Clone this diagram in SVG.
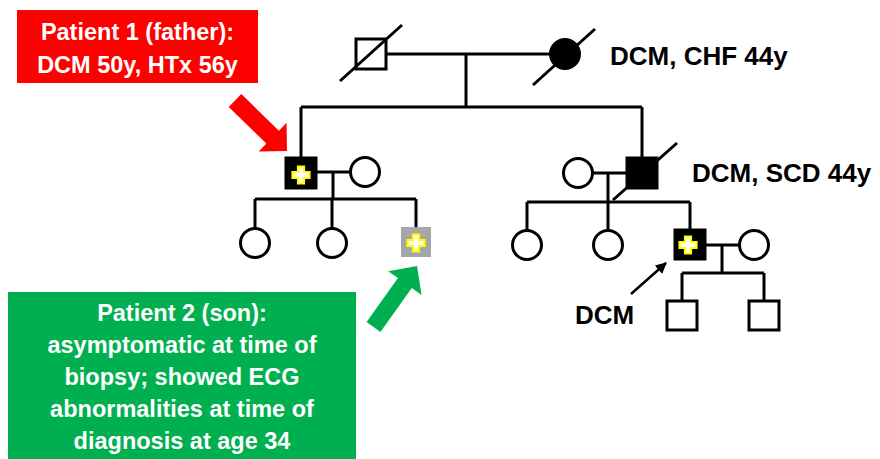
<svg xmlns="http://www.w3.org/2000/svg" width="880" height="459" viewBox="0 0 880 459">
<style>
.ln{stroke:#000;stroke-width:3;fill:none}
.sq{stroke:#000;stroke-width:3;fill:#fff}
.aff{stroke:#000;stroke-width:3;fill:#000}
.cx{fill:#fff;stroke:#ffff00;stroke-width:2.2}
.lbl{font-family:"Liberation Sans",Arial,sans-serif;font-weight:bold;font-size:26px;fill:#000}
.box{font-family:"Liberation Sans",Arial,sans-serif;font-weight:bold;font-size:23.5px;fill:#fff;text-anchor:middle}
</style>
<defs>
<path id="cross" d="M-3,-8.5 h6 v5.5 h5.5 v6 h-5.5 v5.5 h-6 v-5.5 h-5.5 v-6 h5.5 z"/>
<marker id="ah" viewBox="0 0 10 10" refX="9" refY="5" markerWidth="4.5" markerHeight="4.5" orient="auto" markerUnits="strokeWidth">
<path d="M0,0 L10,5 L0,10 z" fill="#000"/>
</marker>
</defs>
<rect width="880" height="459" fill="#fff"/>

<g id="connectors">
<line class="ln" x1="386" y1="54" x2="550" y2="54"/>
<line class="ln" x1="466" y1="54" x2="466" y2="107"/>
<line class="ln" x1="301" y1="107" x2="642" y2="107"/>
<line class="ln" x1="301" y1="107" x2="301" y2="158"/>
<line class="ln" x1="642" y1="107" x2="642" y2="158"/>
<line class="ln" x1="316" y1="172" x2="350" y2="172"/>
<line class="ln" x1="333" y1="172" x2="333" y2="199"/>
<line class="ln" x1="255" y1="199" x2="416" y2="199"/>
<line class="ln" x1="255" y1="199" x2="255" y2="228"/>
<line class="ln" x1="332" y1="199" x2="332" y2="228"/>
<line class="ln" x1="416" y1="199" x2="416" y2="227"/>
<line class="ln" x1="593" y1="173" x2="627" y2="173"/>
<line class="ln" x1="608" y1="173" x2="608" y2="202"/>
<line class="ln" x1="527" y1="202" x2="690" y2="202"/>
<line class="ln" x1="527" y1="202" x2="527" y2="230"/>
<line class="ln" x1="608" y1="202" x2="608" y2="230"/>
<line class="ln" x1="690" y1="202" x2="690" y2="229"/>
<line class="ln" x1="705" y1="245" x2="739" y2="245"/>
<line class="ln" x1="722" y1="245" x2="722" y2="273"/>
<line class="ln" x1="682" y1="273" x2="764" y2="273"/>
<line class="ln" x1="682" y1="273" x2="682" y2="301"/>
<line class="ln" x1="764" y1="273" x2="764" y2="301"/>
</g>

<g id="grandfather">
<rect class="sq" x="356" y="39" width="30" height="30"/>
<line class="ln" x1="340" y1="81" x2="402" y2="25"/>
</g>
<g id="grandmother">
<circle class="aff" cx="565" cy="54" r="14.5"/>
<line class="ln" x1="533" y1="85" x2="595" y2="29"/>
<text class="lbl" x="610" y="65">DCM, CHF 44y</text>
</g>

<g id="patient1">
<rect class="aff" x="286" y="158" width="30" height="30"/>
<use href="#cross" class="cx" x="301" y="175"/>
</g>
<g id="patient1-wife">
<circle class="sq" cx="365" cy="172" r="14.5"/>
</g>
<g id="p1-daughter1"><circle class="sq" cx="255" cy="243" r="14.5"/></g>
<g id="p1-daughter2"><circle class="sq" cx="332" cy="243" r="14.5"/></g>
<g id="patient2">
<rect x="401" y="227" width="30" height="30" fill="#a6a6a6"/>
<use href="#cross" class="cx" x="416" y="243"/>
</g>

<g id="uncle">
<rect class="aff" x="627" y="158" width="30" height="30"/>
<line class="ln" x1="613" y1="200" x2="677" y2="143"/>
<text class="lbl" x="692" y="182">DCM, SCD 44y</text>
</g>
<g id="uncle-wife"><circle class="sq" cx="578" cy="173" r="14.5"/></g>
<g id="cousin1"><circle class="sq" cx="527" cy="245" r="14.5"/></g>
<g id="cousin2"><circle class="sq" cx="608" cy="245" r="14.5"/></g>
<g id="cousin-son">
<rect class="aff" x="675" y="230" width="30" height="29"/>
<use href="#cross" class="cx" x="688" y="245"/>
</g>
<g id="cousin-son-wife"><circle class="sq" cx="754" cy="245" r="14.5"/></g>
<g id="gs1"><rect class="sq" x="667" y="301" width="30" height="29"/></g>
<g id="gs2"><rect class="sq" x="749" y="301" width="30" height="29"/></g>

<g id="dcm-label">
<line x1="631" y1="294" x2="666" y2="263" stroke="#000" stroke-width="2.5" marker-end="url(#ah)"/>
<text class="lbl" x="575" y="324">DCM</text>
</g>

<g id="patient1-callout">
<rect x="17" y="10" width="241" height="73" fill="#ff0000"/>
<text class="box" x="137.5" y="40">Patient 1 (father):</text>
<text class="box" x="137.5" y="73">DCM 50y, HTx 56y</text>
<polygon fill="#ff0000" transform="translate(235,100.5) rotate(44.2)" points="0,-9 52.5,-9 52.5,-20 72.5,0 52.5,20 52.5,9 0,9"/>
</g>

<g id="patient2-callout">
<rect x="8" y="292" width="348" height="180" fill="#00b050"/>
<text class="box" x="182" y="321">Patient 2 (son):</text>
<text class="box" x="182" y="353">asymptomatic at time of</text>
<text class="box" x="182" y="385">biopsy; showed ECG</text>
<text class="box" x="182" y="417">abnormalities at time of</text>
<text class="box" x="182" y="449">diagnosis at age 34</text>
<polygon fill="#00b050" transform="translate(373.5,327) rotate(-54.5)" points="0,-8.5 54,-8.5 54,-20.5 75,0 54,20.5 54,8.5 0,8.5"/>
</g>
</svg>
